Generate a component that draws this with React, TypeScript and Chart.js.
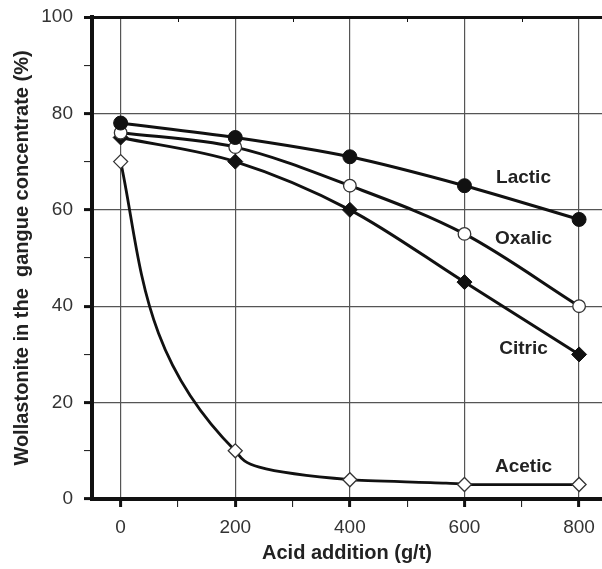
import React, { useEffect, useRef } from "react";
import { Chart, registerables } from "chart.js";

Chart.register(...registerables);

const acidAddition = [0, 200, 400, 600, 800];
const lactic = [78, 75, 71, 65, 58];
const oxalic = [76, 73, 65, 55, 40];
const citric = [75, 70, 60, 45, 30];
const acetic = [70, 10, 4, 3, 3];

const xMajorTicks = [0, 200, 400, 600, 800];
const xMinorTicks = [100, 300, 500, 700];
const yTicks = [0, 10, 20, 30, 40, 50, 60, 70, 80, 90, 100];

const seriesLabels = [
  { text: "Lactic", x: 703, y: 66.6 },
  { text: "Oxalic", x: 703, y: 54 },
  { text: "Citric", x: 703, y: 31.1 },
  { text: "Acetic", x: 703, y: 6.6 },
];

const FONT = "'Liberation Sans', Arial, sans-serif";

const toPoints = (ys: number[]) => acidAddition.map((x, i) => ({ x, y: ys[i] }));

const labelPlugin = {
  id: "seriesLabels",
  afterDatasetsDraw(chart: any) {
    const { ctx, scales, chartArea } = chart;
    ctx.save();
    // minor tick marks on the top frame
    ctx.strokeStyle = "#111";
    ctx.lineWidth = 1;
    xMinorTicks.forEach((v) => {
      const px = Math.round(scales.x.getPixelForValue(v)) + 0.5;
      ctx.beginPath();
      ctx.moveTo(px, chartArea.top);
      ctx.lineTo(px, chartArea.top + 5);
      ctx.stroke();
    });
    ctx.font = `bold 19px ${FONT}`;
    ctx.fillStyle = "#222";
    ctx.textAlign = "center";
    ctx.textBaseline = "middle";
    seriesLabels.forEach((l) => {
      ctx.fillText(l.text, scales.x.getPixelForValue(l.x), scales.y.getPixelForValue(l.y));
    });
    ctx.restore();
  },
};

export default function App() {
  const ref = useRef<HTMLCanvasElement | null>(null);

  useEffect(() => {
    if (!ref.current) return;
    const chart = new Chart(ref.current, {
      type: "line",
      data: {
        datasets: [
          {
            label: "Lactic",
            data: toPoints(lactic),
            borderColor: "#111",
            borderWidth: 3,
            cubicInterpolationMode: "monotone",
            pointStyle: "circle",
            pointRadius: 7,
            pointBackgroundColor: "#111",
            pointBorderColor: "#111",
            pointBorderWidth: 1,
          },
          {
            label: "Oxalic",
            data: toPoints(oxalic),
            borderColor: "#111",
            borderWidth: 3,
            cubicInterpolationMode: "monotone",
            pointStyle: "circle",
            pointRadius: 6.3,
            pointBackgroundColor: "#fff",
            pointBorderColor: "#333",
            pointBorderWidth: 1.3,
          },
          {
            label: "Citric",
            data: toPoints(citric),
            borderColor: "#111",
            borderWidth: 3,
            cubicInterpolationMode: "monotone",
            pointStyle: "rectRot",
            pointRadius: 7.5,
            pointBackgroundColor: "#111",
            pointBorderColor: "#111",
            pointBorderWidth: 1,
          },
          {
            label: "Acetic",
            data: toPoints(acetic),
            indexAxis: "y",
            borderColor: "#111",
            borderWidth: 2.8,
            cubicInterpolationMode: "monotone",
            pointStyle: "rectRot",
            pointRadius: 7,
            pointBackgroundColor: "#fff",
            pointBorderColor: "#333",
            pointBorderWidth: 1.3,
          },
        ] as any,
      },
      options: {
        animation: false,
        responsive: false,
        layout: { autoPadding: false, padding: { top: 17, right: 0, left: 0, bottom: 0 } },
        plugins: { legend: { display: false }, tooltip: { enabled: false } },
        scales: {
          x: {
            type: "linear",
            min: -50,
            max: 840,
            afterFit: (s: any) => {
              s.height = 70;
              s.paddingLeft = 0;
              s.paddingRight = 0;
            },
            afterBuildTicks: (s: any) => {
              s.ticks = [...xMajorTicks, ...xMinorTicks]
                .sort((a, b) => a - b)
                .map((v) => ({ value: v }));
            },
            ticks: {
              autoSkip: false,
              maxRotation: 0,
              padding: 9,
              color: "#333",
              font: { family: FONT, size: 19 },
              callback: (v: any) => (xMajorTicks.includes(Number(v)) ? String(v) : ""),
            },
            grid: {
              color: (c: any) =>
                c.tick && xMajorTicks.includes(c.tick.value) ? "#555" : "rgba(0,0,0,0)",
              lineWidth: 1.2,
              tickLength: 8,
              tickColor: "#111",
              tickWidth: (c: any) =>
                c.tick && xMajorTicks.includes(c.tick.value) ? 3 : 1,
            },
            border: { display: true, color: "#111", width: 4 },
            title: {
              display: true,
              text: "Acid addition (g/t)",
              color: "#222",
              font: { family: FONT, size: 20, weight: "bold" },
              padding: { top: 0, bottom: 4 },
            },
          },
          y: {
            type: "linear",
            min: 0,
            max: 100,
            afterFit: (s: any) => {
              s.width = 92;
              s.paddingTop = 0;
              s.paddingBottom = 0;
            },
            afterBuildTicks: (s: any) => {
              s.ticks = yTicks.map((v) => ({ value: v }));
            },
            ticks: {
              autoSkip: false,
              padding: 11,
              color: "#333",
              font: { family: FONT, size: 19 },
              callback: (v: any) => (Number(v) % 20 === 0 ? String(v) : ""),
            },
            grid: {
              color: (c: any) => {
                const v = c.tick ? c.tick.value : 0;
                if (v === 100) return "#111";
                return v % 20 === 0 ? "#555" : "rgba(0,0,0,0)";
              },
              lineWidth: (c: any) => (c.tick && c.tick.value === 100 ? 3 : 1.2),
              tickLength: 8,
              tickColor: "#111",
              tickWidth: (c: any) => (c.tick && c.tick.value % 20 === 0 ? 3 : 1),
            },
            border: { display: true, color: "#111", width: 4 },
            title: {
              display: true,
              text: "Wollastonite in the  gangue concentrate (%)",
              color: "#222",
              font: { family: FONT, size: 20, weight: "bold" },
              padding: { top: 10, bottom: 0 },
            },
          },
        },
      } as any,
      plugins: [labelPlugin],
    });
    return () => chart.destroy();
  }, []);

  return (
    <div style={{ position: "fixed", left: 0, top: 0, width: 602, height: 569, background: "#fff" }}>
      <canvas ref={ref} width={602} height={569} style={{ width: 602, height: 569 }} />
    </div>
  );
}
